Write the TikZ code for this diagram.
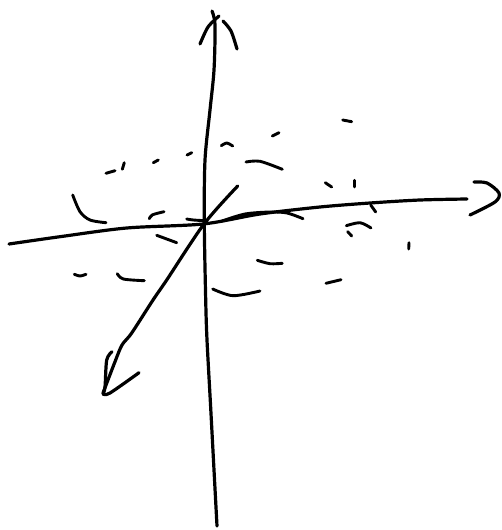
\documentclass[tikz,border=0pt]{standalone}
\usepackage{tikz}
\tikzset{axisink/.style={line width=3.2pt, black, line cap=round, line join=round},
  dabink/.style={line width=2.9pt, black, line cap=round, line join=round}}
\begin{document}
\begin{tikzpicture}[x=1pt, y=-1pt]
\useasboundingbox (0,0) rectangle (502,530);
% ===== axes =====
\draw[axisink] plot[smooth] coordinates {(212,11) (215,25) (214,70) (210,110) (205,160) (204.3,223) (205.7,300) (207,340) (210.7,408) (214,470) (217,526)};
\draw[axisink] plot[smooth] coordinates {(9,244) (60,236.7) (126.7,228) (203,224) (260,214) (320,207) (370,203) (420,200) (467,199)};
\draw[axisink] plot[smooth] coordinates {(237.7,186) (204,224) (166.7,280) (153,300) (131.7,333) (122,345) (115,361.7) (103,393)};
% ===== arrow barbs =====
\draw[axisink] plot[smooth] coordinates {(200,44) (208,27) (219,16)};
\draw[axisink] plot[smooth] coordinates {(223,21) (231,31) (237,49)};
\draw[axisink] plot[smooth] coordinates {(474,182) (487,183) (499,193) (495,202) (470,215)};
\draw[axisink] plot[smooth] coordinates {(112,351.7) (106.7,360) (105,387) (103,394)};
\draw[axisink] plot[smooth] coordinates {(103,394) (110,393) (139,372.7)};
% ===== short straight dabs =====
\foreach \ax/\ay/\bx/\by in {106/173.3/115/170.7, 124.3/162.7/122.3/169.3, 153.3/162.7/158.3/160,
  187/155/191.7/152.7, 156.7/235.3/176.7/242.7, 272.3/136/279/132.7, 325.3/182.7/331.7/187,
  354.7/180.3/354.7/187, 370.7/205/375.7/212, 347.7/231.7/351.7/236, 409/242.7/408.7/249,
  326/283.3/341/279.7, 342.7/120/351.7/121.7}{
  \draw[dabink] (\ax,\ay) -- (\bx,\by);
}
% ===== curved dabs =====
\foreach \ax/\ay/\mx/\my/\bx/\by in {221.3/145.7/226.7/143/232.7/146, 149.3/218.7/152.5/214.8/164/211.7,
  186.7/219/193.3/220/205/220.7, 74.3/274.3/80/276/86/274.3, 117.3/273.7/123.3/279/144.3/280.7,
  212.7/289/233/295.7/260/291, 246/162/260/161.3/282.3/169.3, 346.3/225.7/360/222.7/371/228,
  257.3/260.3/270/263.7/282.3/263.3}{
  \draw[dabink] plot[smooth] coordinates {(\ax,\ay) (\mx,\my) (\bx,\by)};
}
\draw[dabink] plot[smooth] coordinates {(72.7,195) (80,211.7) (90,220) (106,222.7)};
\draw[dabink] plot[smooth] coordinates {(222,221) (245,214) (270,212) (287,213) (303,218.7)};
\end{tikzpicture}
\end{document}
